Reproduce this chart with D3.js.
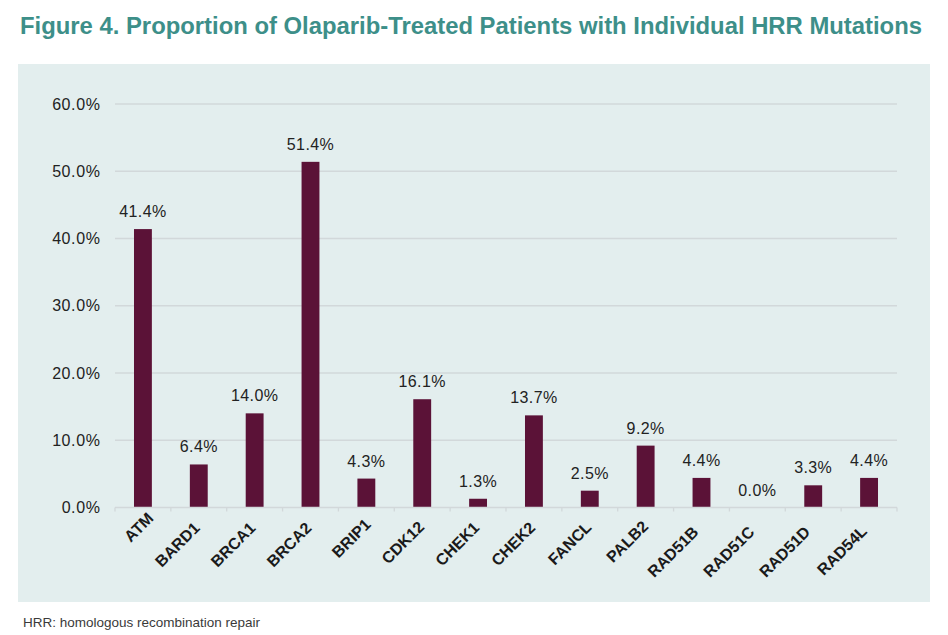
<!DOCTYPE html>
<html><head><meta charset="utf-8">
<script src="https://cdn.jsdelivr.net/npm/d3@7"></script>
<style>body{margin:0;background:#fff;} svg{display:block;}</style>
</head><body>
<svg id="c" width="948" height="635"></svg>
<script>
const titleText = "Figure 4. Proportion of Olaparib-Treated Patients with Individual HRR Mutations";
const footnote = "HRR: homologous recombination repair";
const categories = ["ATM","BARD1","BRCA1","BRCA2","BRIP1","CDK12","CHEK1","CHEK2","FANCL","PALB2","RAD51B","RAD51C","RAD51D","RAD54L"];
const values = [41.4,6.4,14.0,51.4,4.3,16.1,1.3,13.7,2.5,9.2,4.4,0.0,3.3,4.4];
const yTicks = [0,10,20,30,40,50,60];

const FONT = "'Liberation Sans',Arimo,Arial,sans-serif";
const svg = d3.select("#c");
svg.append("text").attr("x",20).attr("y",33.5)
  .attr("font-family",FONT)
  .attr("font-weight","bold").attr("font-size",23.5).attr("fill","#3d8f89")
  .attr("textLength",902).attr("lengthAdjust","spacingAndGlyphs")
  .text(titleText);

svg.append("rect").attr("x",18).attr("y",64).attr("width",912).attr("height",538).attr("fill","#e3eeee");

const x = d3.scaleBand().domain(categories).range([115,897]).paddingInner(0.68).paddingOuter(0.34);
const y = d3.scaleLinear().domain([0,60]).range([507.5,104]);

const g = svg.append("g");
g.selectAll("line.grid").data(yTicks.slice(1)).join("line")
  .attr("x1",115).attr("x2",897).attr("y1",d=>y(d)).attr("y2",d=>y(d))
  .attr("stroke","#d2d8da").attr("stroke-width",1.3);

// y labels
g.selectAll("text.yl").data(yTicks).join("text")
  .attr("x",100.5).attr("y",d=>y(d)+5.5).attr("text-anchor","end")
  .attr("font-family",FONT).attr("font-size",16).attr("letter-spacing",0.6).attr("fill","#222")
  .text(d=>d.toFixed(1)+"%");

// bars
g.selectAll("rect.bar").data(values).join("rect")
  .attr("x",(d,i)=>x(categories[i])).attr("width",x.bandwidth())
  .attr("y",d=>y(d)).attr("height",d=>y(0)-y(d)).attr("fill","#5b1237");

// x axis
const step = x.step();
g.append("line").attr("x1",115).attr("x2",897).attr("y1",y(0)).attr("y2",y(0)).attr("stroke","#d2d8da").attr("stroke-width",1.3);
const bounds = d3.range(categories.length+1).map(i=>115+i*step);
g.selectAll("line.tk").data(bounds).join("line")
  .attr("x1",d=>d).attr("x2",d=>d).attr("y1",y(0)).attr("y2",y(0)+4).attr("stroke","#d2d8da").attr("stroke-width",1.3);

// value labels
g.selectAll("text.vl").data(values).join("text")
  .attr("x",(d,i)=>x(categories[i])+x.bandwidth()/2).attr("y",d=>y(d)-12)
  .attr("text-anchor","middle")
  .attr("font-family",FONT).attr("font-size",16).attr("letter-spacing",0.4).attr("fill","#222")
  .text(d=>d.toFixed(1)+"%");

// category labels
const cl = g.selectAll("text.cl").data(categories).join("text")
  .attr("text-anchor","end")
  .attr("font-family",FONT).attr("font-weight","bold").attr("font-size",16).attr("fill","#1a1a1a")
  .text(d=>d);
cl.each(function(d){
  const L = this.getComputedTextLength();
  const s = 0.63*(55 - L)*Math.SQRT1_2;
  const cx = x(d)+x.bandwidth()/2 + 2 + s;
  const cy = y(0) + 21.5 - s;
  d3.select(this).attr("transform",`translate(${cx},${cy}) rotate(-45)`);
});

svg.append("text").attr("x",23).attr("y",626.5)
  .attr("font-family",FONT).attr("font-size",13.5).attr("fill","#3a3a3a")
  .text(footnote);
</script>
</body></html>
